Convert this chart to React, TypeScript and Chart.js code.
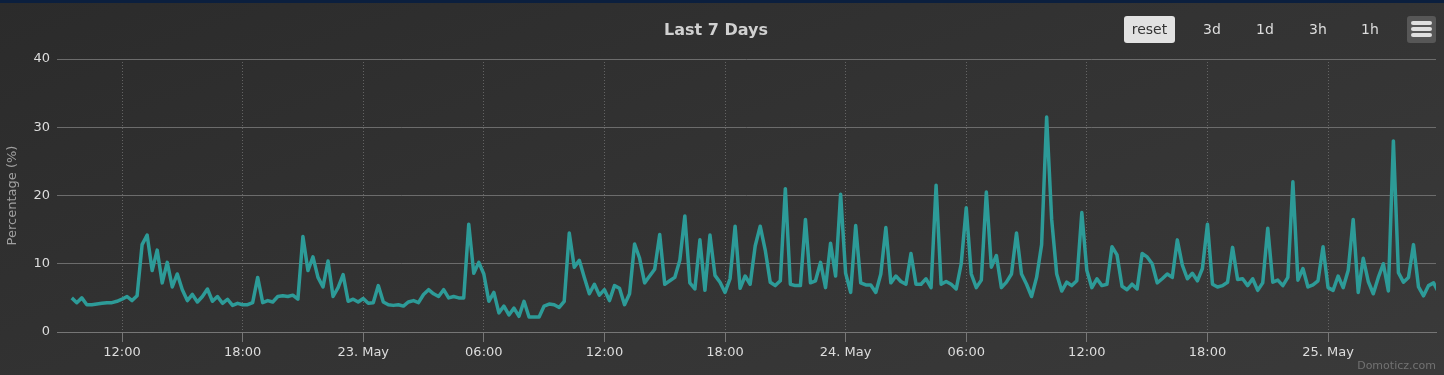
import React, { useEffect, useRef } from "react";
import { Chart, registerables } from "chart.js";

Chart.register(...registerables);

// Time axis: hours counted from 22 May 00:00, one sample every 15 minutes
const startHour = 9.5;
const stepHours = 0.25;
const axisMinHour = 8.766;
const axisMaxHour = 77.37;

// CPU percentage readings (from 22 May 09:30)
const cpuValues = [
  5.0, 4.3, 5.0, 4.0, 4.0, 4.1, 4.2, 4.3, 4.3, 4.5,
  4.8, 5.2, 4.6, 5.3, 12.8, 14.2, 9.0, 12.0, 7.2, 10.2,
  6.6, 8.5, 6.2, 4.6, 5.5, 4.4, 5.2, 6.3, 4.5, 5.2,
  4.2, 4.8, 3.9, 4.2, 4.0, 4.0, 4.3, 8.0, 4.3, 4.6,
  4.4, 5.2, 5.3, 5.2, 5.4, 4.8, 14.0, 9.0, 11.0, 8.0,
  6.6, 10.4, 5.2, 6.5, 8.4, 4.5, 4.8, 4.4, 4.9, 4.2,
  4.3, 6.8, 4.4, 4.0, 3.9, 4.0, 3.8, 4.4, 4.6, 4.3,
  5.5, 6.2, 5.6, 5.2, 6.2, 5.0, 5.2, 5.0, 5.0, 15.8,
  8.6, 10.2, 8.5, 4.5, 5.8, 2.8, 3.8, 2.5, 3.5, 2.3,
  4.5, 2.2, 2.2, 2.2, 3.8, 4.1, 4.0, 3.6, 4.5, 14.5,
  9.5, 10.5, 8.0, 5.6, 7.0, 5.4, 6.2, 4.6, 6.8, 6.4,
  4.0, 5.6, 12.9, 10.8, 7.2, 8.2, 9.2, 14.3, 7.0, 7.5,
  8.0, 10.5, 17.0, 7.2, 6.3, 13.5, 6.1, 14.2, 8.3, 7.3,
  5.8, 7.8, 15.5, 6.4, 8.2, 7.0, 12.6, 15.5, 12.0, 7.3,
  6.8, 7.5, 21.0, 7.0, 6.8, 6.8, 16.5, 7.2, 7.5, 10.2,
  6.5, 13.0, 8.2, 20.2, 8.6, 5.8, 15.6, 7.2, 6.9, 6.9,
  5.8, 8.5, 15.3, 7.2, 8.2, 7.4, 7.0, 11.5, 7.0, 7.0,
  7.8, 6.5, 21.5, 7.0, 7.4, 7.0, 6.3, 10.0, 18.2, 8.5,
  6.5, 7.6, 20.5, 9.5, 11.2, 6.5, 7.3, 8.5, 14.5, 8.5,
  7.0, 5.2, 8.0, 12.8, 31.5, 16.5, 8.5, 6.0, 7.3, 6.8,
  7.5, 17.5, 9.0, 6.5, 7.8, 6.8, 7.0, 12.5, 11.3, 6.7,
  6.2, 7.0, 6.3, 11.5, 11.0, 10.0, 7.2, 7.8, 8.5, 8.0,
  13.5, 9.8, 7.8, 8.6, 7.5, 9.3, 15.8, 7.0, 6.6, 6.8,
  7.3, 12.4, 7.7, 7.8, 6.8, 7.8, 6.1, 7.2, 15.2, 7.3,
  7.6, 6.8, 8.0, 22.0, 7.6, 9.3, 6.6, 6.9, 7.5, 12.5,
  6.5, 6.1, 8.2, 6.5, 9.0, 16.5, 5.8, 10.8, 7.4, 5.6,
  8.0, 10.0, 6.0, 28.0, 8.7, 7.3, 8.0, 12.8, 6.6, 5.3,
  6.8, 7.2, 5.8,
];

const xTickHours = [12, 18, 24, 30, 36, 42, 48, 54, 60, 66, 72];
const dayNames: Record<number, string> = { 24: "23. May", 48: "24. May", 72: "25. May" };
const yTickValues = [0, 10, 20, 30, 40];

const chartTitle = "Last 7 Days";
const yAxisTitle = "Percentage (%)";
const resetLabel = "reset";
const rangeButtons = ["3d", "1d", "3h", "1h"];
const creditText = "Domoticz.com";

const FONT = "'DejaVu Sans', Verdana, sans-serif";

function hourLabel(h: number): string {
  if (dayNames[h]) return dayNames[h];
  const hh = ((h % 24) + 24) % 24;
  return (hh < 10 ? "0" : "") + hh + ":00";
}

export default function App() {
  const canvasRef = useRef<HTMLCanvasElement | null>(null);

  useEffect(() => {
    document.body.style.margin = "0";
    const canvas = canvasRef.current;
    if (!canvas) return;
    const points = cpuValues.map((v, i) => ({ x: startHour + i * stepHours, y: v }));
    const chart = new Chart(canvas, {
      type: "line",
      data: {
        datasets: [
          {
            data: points,
            borderColor: "#2d9b98",
            borderWidth: 3.5,
            pointRadius: 0,
            tension: 0,
            fill: false,
            borderJoinStyle: "round",
          },
        ],
      },
      options: {
        animation: false,
        responsive: false,
        maintainAspectRatio: false,
        layout: { padding: { left: 0, right: 8, top: 59, bottom: 0 } },
        plugins: {
          legend: { display: false },
          tooltip: { enabled: false },
          title: { display: false },
        },
        scales: {
          x: {
            type: "linear",
            min: axisMinHour,
            max: axisMaxHour,
            afterBuildTicks: (s: any) => {
              s.ticks = xTickHours.map((v) => ({ value: v }));
            },
            afterFit: (s: any) => {
              s.height = 43;
            },
            ticks: {
              color: "#dddddd",
              font: { family: FONT, size: 13 },
              padding: 3,
              maxRotation: 0,
              autoSkip: false,
              callback: (v: any) => hourLabel(Number(v)),
            },
            grid: {
              color: "rgba(105,105,105,0.9)",
              lineWidth: 1,
              drawTicks: true,
              tickLength: 10,
              tickColor: "#777777",
              tickBorderDash: [],
            },
            border: { display: true, color: "#767676", width: 1, dash: [1, 2] },
          },
          y: {
            min: 0,
            max: 40,
            afterBuildTicks: (s: any) => {
              s.ticks = yTickValues.map((v) => ({ value: v }));
            },
            afterFit: (s: any) => {
              s.width = 57;
            },
            ticks: {
              color: "#dddddd",
              font: { family: FONT, size: 13 },
              padding: 7,
            },
            grid: { color: "#6c6c6c", lineWidth: 1, drawTicks: false },
            border: { display: false },
            title: {
              display: true,
              text: yAxisTitle,
              color: "#a0a0a0",
              font: { family: FONT, size: 13 },
              padding: { top: 5, bottom: 0 },
            },
          },
        },
      },
    } as any);
    return () => chart.destroy();
  }, []);

  const btnBase: React.CSSProperties = {
    position: "absolute",
    top: 16,
    height: 27,
    lineHeight: "27px",
    fontFamily: FONT,
    fontSize: 14,
    textAlign: "center",
  };

  const rangeCenters = [1212, 1265, 1318, 1370];

  return (
    <div
      style={{
        position: "relative",
        width: 1444,
        height: 375,
        overflow: "hidden",
        background: "linear-gradient(160deg, #2b2b2b 0%, #333333 50%, #3a3a3a 100%)",
      }}
    >
      <div style={{ position: "absolute", left: 0, top: 0, width: 1444, height: 3, background: "#0b1f3e" }} />
      <canvas
        ref={canvasRef}
        width={1444}
        height={375}
        style={{ position: "absolute", left: 0, top: 0, width: 1444, height: 375, display: "block" }}
      />
      <div
        style={{
          position: "absolute",
          left: 516,
          width: 400,
          top: 19,
          textAlign: "center",
          fontFamily: FONT,
          fontSize: 16,
          fontWeight: "bold",
          color: "#d0d0d0",
          lineHeight: "22px",
        }}
      >
        {chartTitle}
      </div>
      <div
        style={{
          ...btnBase,
          left: 1124,
          width: 51,
          background: "#e2e2e2",
          borderRadius: 3,
          color: "#333333",
        }}
      >
        {resetLabel}
      </div>
      {rangeButtons.map((b, i) => (
        <div key={b} style={{ ...btnBase, left: rangeCenters[i] - 20, width: 40, color: "#dddddd" }}>
          {b}
        </div>
      ))}
      <div
        style={{
          position: "absolute",
          left: 1407,
          top: 16,
          width: 29,
          height: 27,
          background: "#575757",
          borderRadius: 3,
        }}
      >
        {[6, 12, 18].map((t) => (
          <div
            key={t}
            style={{
              position: "absolute",
              left: 4,
              top: t - 1,
              width: 21,
              height: 4,
              borderRadius: 2,
              background: "#e0e0e0",
            }}
          />
        ))}
      </div>
      <div
        style={{
          position: "absolute",
          right: 8,
          top: 359,
          fontFamily: FONT,
          fontSize: 11,
          color: "#727272",
          lineHeight: "14px",
        }}
      >
        {creditText}
      </div>
    </div>
  );
}
